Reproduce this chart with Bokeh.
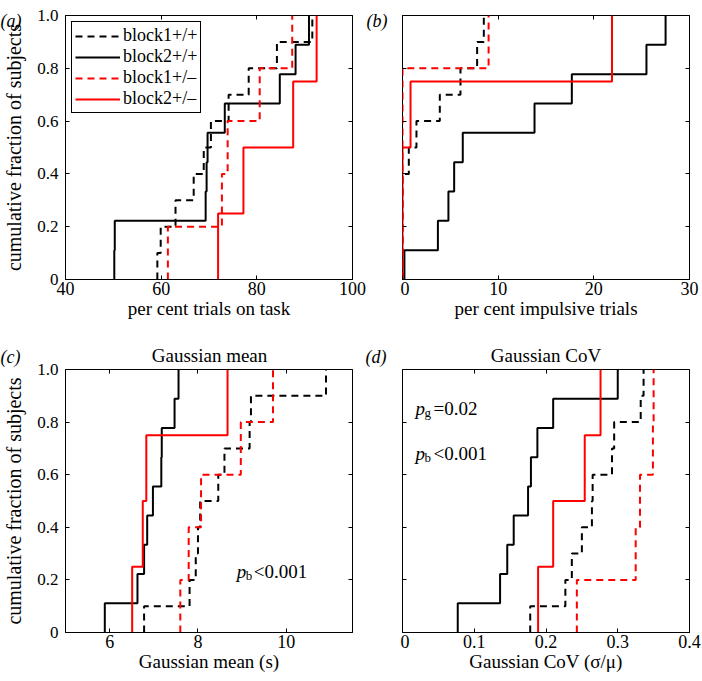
from bokeh.plotting import figure
from bokeh.models import Range1d, FixedTicker, LinearAxis, Label
from bokeh.layouts import column, row
from bokeh.embed import file_html
from bokeh.resources import INLINE

FONT = "Liberation Serif"
BLACK = "#000000"
RED = "#ff0000"
DASH = "7 5"

series_names = ["block1+/+", "block2+/+", "block1+/\u2013", "block2+/\u2013"]

# (a) per cent trials on task
a_block1_wt = [59.2, 59.9, 63.0, 66.8, 68.9, 70.4, 74.1, 78.3, 84.2, 91.6]
a_block2_wt = [50.2, 50.3, 69.3, 69.5, 69.7, 73.3, 84.8, 88.1, 90.9]
a_block1_het = [61.4, 72.7, 73.9, 80.6, 87.4]
a_block2_het = [71.9, 77.2, 87.6, 92.5]

# (b) per cent impulsive trials
b_block1_wt = [0.0, 0.0, 0.0, 0.0, 0.66, 1.46, 3.9, 6.06, 7.8, 8.5]
b_block2_wt = [0.2, 3.7, 4.8, 5.4, 6.3, 13.8, 17.7, 25.5, 27.5]
b_block1_het = [0.0, 0.0, 0.0, 0.0, 9.0]
b_block2_het = [0.0, 0.0, 0.84, 21.9]

# (c) Gaussian mean (s)
c_block1_wt = [6.78, 7.81, 7.95, 8.0, 8.05, 8.46, 8.6, 9.17, 9.2, 10.9]
c_block2_wt = [5.89, 6.63, 6.78, 6.85, 6.98, 7.17, 7.18, 7.47, 7.56]
c_block1_het = [7.6, 7.79, 8.07, 8.97, 9.7]
c_block2_het = [6.51, 6.75, 6.83, 8.67]

# (d) Gaussian CoV
d_block1_wt = [0.178, 0.227, 0.236, 0.250, 0.264, 0.265, 0.292, 0.295, 0.332, 0.336]
d_block2_wt = [0.077, 0.136, 0.146, 0.155, 0.175, 0.179, 0.188, 0.210, 0.300]
d_block1_het = [0.243, 0.325, 0.331, 0.349, 0.350]
d_block2_het = [0.189, 0.210, 0.254, 0.276]

y_ticks = [0, 0.2, 0.4, 0.6, 0.8, 1.0]
y_tick_labels = ["0", "0.2", "0.4", "0.6", "0.8", "1.0"]
a_x_ticks = [40, 60, 80, 100]
a_x_labels = ["40", "60", "80", "100"]
b_x_ticks = [0, 10, 20, 30]
b_x_labels = ["0", "10", "20", "30"]
c_x_ticks = [6, 8, 10]
c_x_labels = ["6", "8", "10"]
d_x_ticks = [0, 0.1, 0.2, 0.3, 0.4]
d_x_labels = ["0", "0.1", "0.2", "0.3", "0.4"]

STYLES = [(BLACK, DASH), (BLACK, "solid"), (RED, DASH), (RED, "solid")]


def ecdf_path(vals):
    v = sorted(vals)
    n = len(v)
    xs, ys = [], []
    for i, x in enumerate(v):
        xs += [x, x]
        ys += [i / n, (i + 1) / n]
    return xs, ys


def style_axis(ax, ticks, labels, size, standoff, show=True):
    ax.ticker = FixedTicker(ticks=ticks)
    ax.major_tick_in = 4
    ax.major_tick_out = 0
    ax.major_tick_line_color = "black"
    ax.major_tick_line_width = 1
    ax.minor_tick_line_color = None
    ax.major_label_text_font = FONT
    ax.major_label_text_color = "black"
    if show:
        ax.major_label_overrides = dict(zip(ticks, labels))
        ax.major_label_text_font_size = size
        ax.major_label_standoff = standoff
        ax.axis_line_color = "black"
    else:
        ax.major_label_overrides = {t: "" for t in ticks}
        ax.major_label_text_font_size = "0px"
        ax.major_label_standoff = 0
        ax.axis_line_color = None
    ax.axis_label_text_font = FONT
    ax.axis_label_text_font_style = "normal"
    ax.axis_label_text_color = "black"


def add_text(p, text, x, y, units="screen", size="19px", style="normal",
             align="left", x_offset=0, y_offset=0, place=None):
    lab = Label(x=x, y=y, x_units=units, y_units=units, text=text,
                text_font=FONT, text_font_size=size, text_font_style=style,
                text_align=align, text_baseline="alphabetic",
                text_color="black", x_offset=x_offset, y_offset=y_offset)
    if place is None:
        p.add_layout(lab)
    else:
        p.add_layout(lab, place)


def make_panel(width, height, xr, x_ticks, x_labels, series, xlabel, ylabel,
               borders, show_y, legend=False):
    p = figure(width=width, height=height, x_range=Range1d(*xr), y_range=Range1d(0, 1),
               output_backend="svg", toolbar_location=None,
               min_border_left=borders[0], min_border_right=borders[1],
               min_border_top=borders[2], min_border_bottom=borders[3])
    p.xgrid.visible = False
    p.ygrid.visible = False
    p.outline_line_color = "black"
    p.outline_line_width = 1
    p.outline_line_alpha = 1
    p.background_fill_color = "white"
    p.border_fill_color = "white"
    for vals, (color, dash), name in zip(series, STYLES, series_names):
        xs, ys = ecdf_path(vals)
        kw = dict(legend_label=name) if legend else {}
        p.line(xs, ys, line_color=color, line_width=2, line_dash=dash, **kw)

    xa = p.xaxis[0]
    style_axis(xa, x_ticks, x_labels, "18px", 2)
    xa.axis_label = xlabel
    xa.axis_label_text_font_size = "19px"
    xa.axis_label_standoff = 0

    ya = p.yaxis[0]
    style_axis(ya, y_ticks, y_tick_labels, "17px", 7, show=show_y)
    if ylabel:
        ya.axis_label = ylabel
        ya.axis_label_text_font_size = "20px"
        ya.axis_label_standoff = 9

    top = LinearAxis()
    style_axis(top, x_ticks, x_labels, "0px", 0, show=False)
    p.add_layout(top, "above")
    right = LinearAxis()
    style_axis(right, y_ticks, y_tick_labels, "0px", 0, show=False)
    p.add_layout(right, "right")

    if legend:
        lg = p.legend[0]
        lg.location = "top_left"
        lg.margin = 6
        lg.border_line_color = "black"
        lg.border_line_width = 1
        lg.border_line_alpha = 1
        lg.background_fill_color = "white"
        lg.background_fill_alpha = 1
        lg.label_text_font = FONT
        lg.label_text_font_size = "18px"
        lg.label_text_color = "black"
        lg.glyph_width = 45
        lg.glyph_height = 20
        lg.label_height = 20
        lg.label_standoff = 3
        lg.spacing = 0
        lg.padding = 3
    return p


YLAB = "cumulative fraction of subjects"

pa = make_panel(400, 340, (40, 100), a_x_ticks, a_x_labels,
                [a_block1_wt, a_block2_wt, a_block1_het, a_block2_het],
                "per cent trials on task", YLAB, (64, 48, 15, 61), True, legend=True)
pb = make_panel(302, 340, (0, 30), b_x_ticks, b_x_labels,
                [b_block1_wt, b_block2_wt, b_block1_het, b_block2_het],
                "per cent impulsive trials", None, (2, 13, 15, 61), False)
pc = make_panel(400, 341, (5, 11.5), c_x_ticks, c_x_labels,
                [c_block1_wt, c_block2_wt, c_block1_het, c_block2_het],
                "Gaussian mean (s)", YLAB, (64, 48, 29, 49), True)
pd = make_panel(302, 341, (0, 0.4), d_x_ticks, d_x_labels,
                [d_block1_wt, d_block2_wt, d_block1_het, d_block2_het],
                "Gaussian CoV (\u03c3/\u03bc)", None, (2, 13, 29, 49), False)

# panel letters: placed in the right-hand border panels of the left figures
add_text(pa, "(a)", -352, 259, size="18px", style="italic", place="right")
add_text(pa, "(b)", -7, 259, size="18px", style="italic", place="right")
add_text(pc, "(c)", -352, 276, size="18px", style="italic", place="right")
add_text(pc, "(d)", -7, 276, size="18px", style="italic", place="right")
# panel titles, in the panel above each frame
add_text(pc, "Gaussian mean", 144, 14, align="center", place="above")
add_text(pd, "Gaussian CoV", 143.5, 14, align="center", place="above")

# statistics annotations
add_text(pc, "p", 8.88, 0.233, units="data", size="19px", style="italic")
add_text(pc, "b", 8.88, 0.233, units="data", size="13px", x_offset=9, y_offset=-4)
add_text(pc, "<0.001", 8.88, 0.233, units="data", size="19px", x_offset=17)

add_text(pd, "p", 0.018, 0.852, units="data", size="19px", style="italic")
add_text(pd, "g", 0.018, 0.852, units="data", size="13px", x_offset=9, y_offset=-4)
add_text(pd, "=0.02", 0.018, 0.852, units="data", size="19px", x_offset=18)
add_text(pd, "p", 0.018, 0.68, units="data", size="19px", style="italic")
add_text(pd, "b", 0.018, 0.68, units="data", size="13px", x_offset=9, y_offset=-4)
add_text(pd, "<0.001", 0.018, 0.68, units="data", size="19px", x_offset=18)

layout = column(row(pa, pb), row(pc, pd))

with open("out.html", "w") as f:
    f.write(file_html(layout, INLINE))
